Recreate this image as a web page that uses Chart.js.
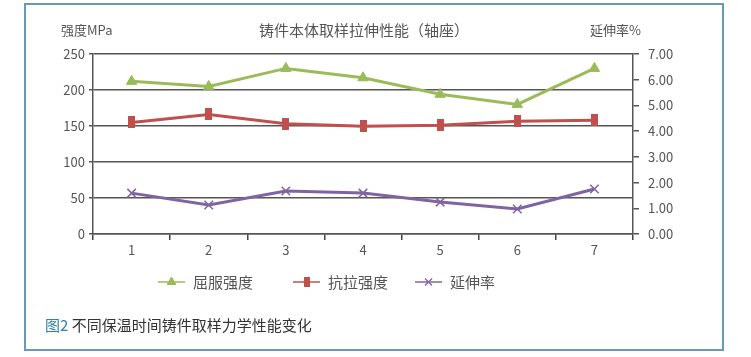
<!DOCTYPE html>
<html>
<head>
<meta charset="utf-8">
<script src="https://cdn.jsdelivr.net/npm/chart.js@4"></script>
<style>
  html, body { margin: 0; padding: 0; background: #ffffff; }
  #wrap { position: relative; width: 751px; height: 357px; overflow: hidden; }
  #frame { position: absolute; left: 24px; top: 3px; width: 696px; height: 344px; border: 2px solid #6a9ab3; box-sizing: content-box; }
  #c { position: absolute; left: 0; top: 0; }
  #caption { position: absolute; left: 45px; top: 314px; font: 15px "Noto Sans CJK SC", sans-serif; color: #333; white-space: nowrap; }
  #caption span { color: #2f80ad; }
</style>
</head>
<body>
<div id="wrap">
  <div id="frame"></div>
  <canvas id="c" width="751" height="357"></canvas>
  <div id="caption"><span>图2</span> 不同保温时间铸件取样力学性能变化</div>
</div>
<script>
// ---- data ----
const categories = ['1', '2', '3', '4', '5', '6', '7'];
const yieldStrength = [212, 205, 230, 217, 194, 180, 230];      // 屈服强度 (MPa)
const tensileStrength = [155, 166, 153, 149.5, 151, 156.5, 158]; // 抗拉强度 (MPa)
const elongation = [1.59, 1.13, 1.67, 1.59, 1.24, 0.97, 1.75];   // 延伸率 (%)
const seriesNames = ['屈服强度', '抗拉强度', '延伸率'];
const leftTicks = [0, 50, 100, 150, 200, 250];
const rightTicks = [0, 1, 2, 3, 4, 5, 6, 7];
const chartTitle = '铸件本体取样拉伸性能（轴座）';
const leftUnit = '强度MPa';
const rightUnit = '延伸率%';

const GREEN = '#9bbb59', RED = '#c0504d', PURPLE = '#8064a2';
const FONT = '"Noto Sans CJK SC", "Liberation Sans", sans-serif';
const TXT = '#555555';
const GRID = '#555555';

function rectMarker(w, h, color) {
  const cv = document.createElement('canvas');
  cv.width = w; cv.height = h;
  const g = cv.getContext('2d');
  g.fillStyle = color;
  g.fillRect(0, 0, w, h);
  return cv;
}
const redMarker = rectMarker(7, 12, RED);
const redMarkerSmall = rectMarker(6, 10, RED);

const topTextPlugin = {
  id: 'topText',
  afterDraw(chart) {
    const ctx = chart.ctx;
    ctx.save();
    ctx.fillStyle = TXT;
    ctx.textBaseline = 'middle';
    ctx.font = '13px ' + FONT;
    ctx.textAlign = 'left';
    ctx.fillText(leftUnit, 61, 30);
    ctx.fillText(rightUnit, 590, 30);
    ctx.font = '15px ' + FONT;
    ctx.textAlign = 'center';
    ctx.fillText(chartTitle, 364, 30);
    ctx.restore();
  }
};

const legendPlugin = {
  id: 'customLegend',
  afterDraw(chart) {
    const ctx = chart.ctx;
    const xs = [158, 293, 415];
    const y = 282;
    const legendMarkers = [
      { pointStyle: 'triangle', radius: 5, borderWidth: 1, rotation: 0 },
      { pointStyle: redMarkerSmall, radius: 5, borderWidth: 1, rotation: 0 },
      { pointStyle: 'crossRot', radius: 5, borderWidth: 1.3, rotation: 0 }
    ];
    chart.data.datasets.forEach((ds, i) => {
      const x0 = xs[i];
      ctx.save();
      ctx.strokeStyle = ds.borderColor;
      ctx.lineWidth = 1.5;
      ctx.beginPath();
      ctx.moveTo(x0, y);
      ctx.lineTo(x0 + 27, y);
      ctx.stroke();
      ctx.fillStyle = ds.borderColor;
      ctx.strokeStyle = ds.borderColor;
      ctx.lineWidth = legendMarkers[i].borderWidth;
      Chart.helpers.drawPoint(ctx, legendMarkers[i], x0 + 13.5, y);
      ctx.fillStyle = TXT;
      ctx.font = '15px ' + FONT;
      ctx.textAlign = 'left';
      ctx.textBaseline = 'middle';
      ctx.fillText(ds.label, x0 + 35, y);
      ctx.restore();
    });
  }
};

new Chart(document.getElementById('c'), {
  type: 'line',
  data: {
    labels: categories,
    datasets: [
      {
        label: seriesNames[0], data: yieldStrength, yAxisID: 'y',
        borderColor: GREEN, backgroundColor: GREEN, borderWidth: 3,
        pointStyle: 'triangle', pointRadius: 6, pointBorderWidth: 1,
        pointBackgroundColor: GREEN, pointBorderColor: GREEN, tension: 0
      },
      {
        label: seriesNames[1], data: tensileStrength, yAxisID: 'y',
        borderColor: RED, backgroundColor: RED, borderWidth: 3,
        pointStyle: redMarker, pointRadius: 6, tension: 0
      },
      {
        label: seriesNames[2], data: elongation, yAxisID: 'y1',
        borderColor: PURPLE, backgroundColor: PURPLE, borderWidth: 3,
        pointStyle: 'crossRot', pointRadius: 6, pointBorderWidth: 1.5,
        pointBorderColor: PURPLE, tension: 0
      }
    ]
  },
  options: {
    responsive: false,
    animation: false,
    events: [],
    layout: { padding: { top: 54, left: 0, right: 0, bottom: 0 } },
    plugins: { legend: { display: false }, title: { display: false }, tooltip: { enabled: false } },
    scales: {
      x: {
        type: 'category',
        offset: true,
        afterFit(scale) { scale.height = 123; },
        grid: { offset: true, drawOnChartArea: false, drawTicks: true, tickLength: 6, color: '#444', lineWidth: 1.5 },
        border: { display: true, color: GRID, width: 1.5 },
        ticks: { color: TXT, font: { family: FONT, size: 13 }, padding: 2, maxRotation: 0 }
      },
      y: {
        position: 'left',
        min: 0, max: 250,
        afterFit(scale) { scale.width = 93; },
        afterBuildTicks(scale) { scale.ticks = leftTicks.map(v => ({ value: v })); },
        grid: { color: GRID, lineWidth: 1.5, tickLength: 4, drawTicks: true },
        border: { display: true, color: GRID, width: 1.5 },
        ticks: { color: TXT, font: { family: FONT, size: 13 }, padding: 4 }
      },
      y1: {
        position: 'right',
        min: 0, max: 7,
        afterFit(scale) { scale.width = 118; },
        afterBuildTicks(scale) { scale.ticks = rightTicks.map(v => ({ value: v })); },
        grid: { drawOnChartArea: false, drawTicks: true, tickLength: 6, color: GRID, lineWidth: 1.5 },
        border: { display: true, color: GRID, width: 1.5 },
        ticks: { color: TXT, font: { family: FONT, size: 13 }, padding: 9, callback: v => Number(v).toFixed(2) }
      }
    }
  },
  plugins: [topTextPlugin, legendPlugin]
});
</script>
</body>
</html>
